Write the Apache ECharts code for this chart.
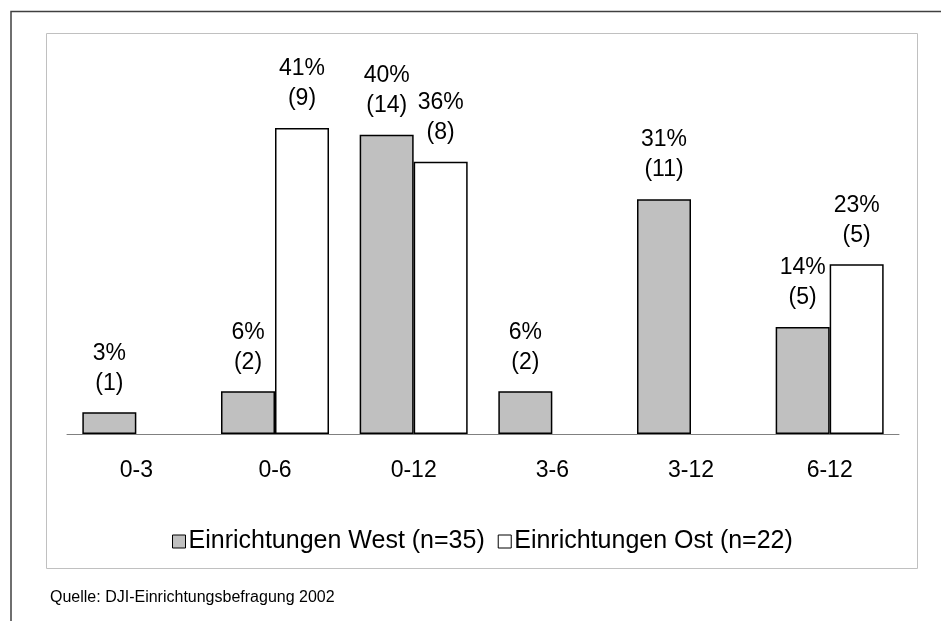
<!DOCTYPE html>
<html>
<head>
<meta charset="utf-8">
<script src="https://cdn.jsdelivr.net/npm/echarts@6/dist/echarts.min.js"></script>
<style>
html,body{margin:0;padding:0;background:#fff;}
#chart{width:941px;height:621px;}
</style>
</head>
<body>
<div id="chart"></div>
<script>
const categories = ['0-3', '0-6', '0-12', '3-6', '3-12', '6-12'];
const westPercent = [2.9, 5.7, 40.0, 5.7, 31.4, 14.3];
const eastPercent = [null, 40.9, 36.4, null, null, 22.7];
const westCount = [1, 2, 14, 2, 11, 5];
const eastCount = [null, 9, 8, null, null, 5];
const seriesNames = ['Einrichtungen West (n=35)', 'Einrichtungen Ost (n=22)'];
const sourceText = 'Quelle: DJI-Einrichtungsbefragung 2002';

const FONT = '"Liberation Sans", Arial, sans-serif';
const FS = 23;

function makeLabel(counts) {
  return {
    show: true,
    position: 'top',
    distance: 14,
    fontFamily: FONT,
    fontSize: FS,
    lineHeight: 30,
    color: '#000',
    formatter: function (p) {
      if (p.value == null) return '';
      return Math.round(p.value) + '%\n(' + counts[p.dataIndex] + ')';
    }
  };
}

const chart = echarts.init(document.getElementById('chart'), null, {renderer: 'canvas'});
chart.setOption({
  backgroundColor: '#fff',
  animation: false,
  grid: {left: 67, right: 42, top: 60, bottom: 187, containLabel: false},
  xAxis: {
    type: 'category',
    data: categories,
    axisLine: {show: true, lineStyle: {color: '#808080', width: 1}},
    axisTick: {show: false},
    axisLabel: {fontFamily: FONT, fontSize: FS, color: '#000', margin: 25}
  },
  yAxis: {
    type: 'value',
    min: 0,
    max: 50,
    show: false,
    splitLine: {show: false}
  },
  legend: {
    left: 167,
    top: 524,
    itemWidth: 13,
    itemHeight: 13,
    itemGap: 13,
    icon: 'rect',
    textStyle: {fontFamily: FONT, fontSize: 25, color: '#000', padding: [0, 0, 0, -2]},
    data: [
      {name: seriesNames[0], itemStyle: {color: '#c0c0c0', borderColor: '#000', borderWidth: 1}},
      {name: seriesNames[1], itemStyle: {color: '#fff', borderColor: '#000', borderWidth: 1}}
    ]
  },
  series: [
    {
      name: seriesNames[0],
      type: 'bar',
      data: westPercent,
      barWidth: 54,
      barGap: '0%',
      itemStyle: {color: '#c0c0c0', borderColor: '#000', borderWidth: 1.5},
      label: makeLabel(westCount)
    },
    {
      name: seriesNames[1],
      type: 'bar',
      data: eastPercent,
      barWidth: 54,
      barGap: '0%',
      itemStyle: {color: '#fff', borderColor: '#000', borderWidth: 1.5},
      label: makeLabel(eastCount)
    }
  ],
  graphic: [
    {
      type: 'rect', silent: true, z: -10,
      shape: {x: 11, y: 11.5, width: 1000, height: 700},
      style: {fill: 'none', stroke: '#404040', lineWidth: 1.5}
    },
    {
      type: 'rect', silent: true, z: -9,
      shape: {x: 46.5, y: 33.5, width: 871, height: 535},
      style: {fill: 'none', stroke: '#c0c0c0', lineWidth: 1}
    },
    {
      type: 'text', silent: true,
      left: 50, top: 590,
      style: {text: sourceText, fontFamily: FONT, fontSize: 16, fill: '#000'}
    }
  ]
});
</script>
</body>
</html>
